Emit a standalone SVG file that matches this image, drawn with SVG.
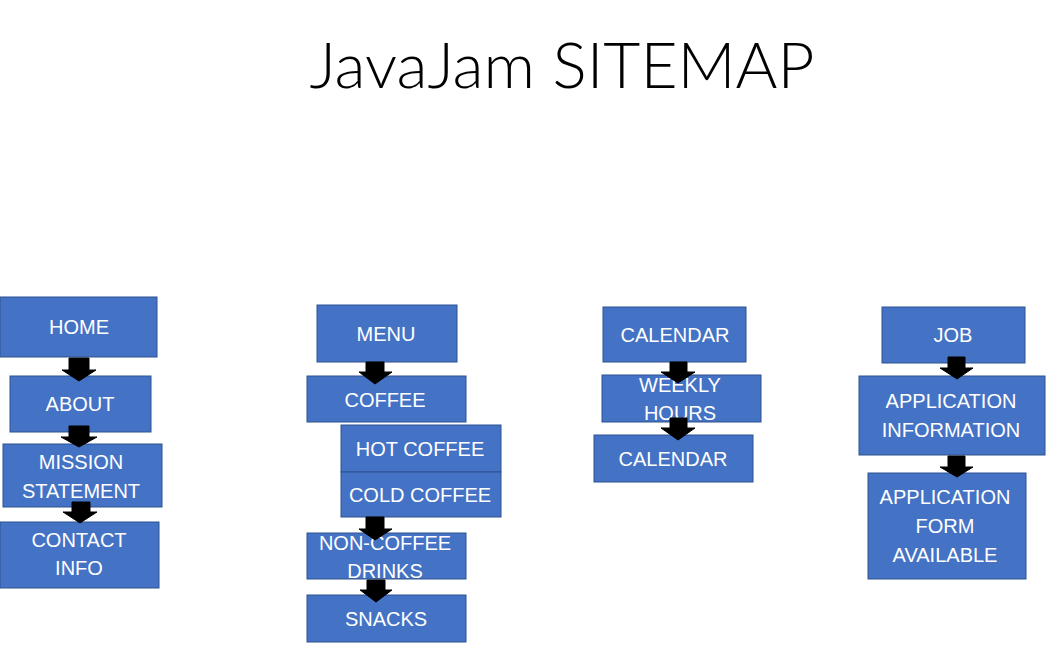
<svg xmlns="http://www.w3.org/2000/svg" width="1046" height="647" viewBox="0 0 1046 647">
<style>
.box{fill:#4472C4;stroke:#2F528F;stroke-width:1}
.t{font-family:"Liberation Sans",Arial,sans-serif;font-size:20px;fill:#fff;text-anchor:middle}
.title{font-family:Lato,"Liberation Sans",Arial,sans-serif;font-weight:300;font-size:64px;fill:#000;text-anchor:middle}
.arr{fill:#000;stroke:#000;stroke-width:1}
</style>
<rect width="1046" height="647" fill="#fff"/>
<text class="title" x="562" y="88" textLength="505" lengthAdjust="spacingAndGlyphs">JavaJam SITEMAP</text>

<g id="home"><rect class="box" x="0" y="297" width="157" height="60"/><text class="t" x="79" y="334">HOME</text></g>
<g id="about"><rect class="box" x="10" y="376" width="141" height="56"/><text class="t" x="80" y="411">ABOUT</text></g>
<g id="mission"><rect class="box" x="3" y="444" width="159" height="63"/><text class="t" x="81" y="469">MISSION</text><text class="t" x="81" y="498">STATEMENT</text></g>
<g id="contact"><rect class="box" x="0" y="522" width="159" height="66"/><text class="t" x="79" y="547">CONTACT</text><text class="t" x="79" y="575">INFO</text></g>

<g id="menu"><rect class="box" x="317" y="305" width="140" height="57"/><text class="t" x="386" y="341">MENU</text></g>
<g id="coffee"><rect class="box" x="307" y="376" width="159" height="46"/><text class="t" x="385" y="407">COFFEE</text></g>
<g id="hotcoffee"><rect class="box" x="341" y="425" width="160" height="47"/><text class="t" x="420" y="456">HOT COFFEE</text></g>
<g id="coldcoffee"><rect class="box" x="341" y="472" width="160" height="45"/><text class="t" x="420" y="502">COLD COFFEE</text></g>
<g id="noncoffee"><rect class="box" x="307" y="533" width="159" height="46"/><text class="t" x="385" y="550">NON-COFFEE</text><text class="t" x="385" y="578">DRINKS</text></g>
<g id="snacks"><rect class="box" x="307" y="595" width="159" height="47"/><text class="t" x="386" y="626">SNACKS</text></g>

<g id="calendar"><rect class="box" x="603" y="307" width="143" height="55"/><text class="t" x="675" y="342">CALENDAR</text></g>
<g id="weekly"><rect class="box" x="602" y="375" width="159" height="47"/><text class="t" x="680" y="392">WEEKLY</text><text class="t" x="680" y="420">HOURS</text></g>
<g id="calendar2"><rect class="box" x="594" y="435" width="159" height="47"/><text class="t" x="673" y="466">CALENDAR</text></g>

<g id="job"><rect class="box" x="882" y="307" width="143" height="56"/><text class="t" x="953" y="342">JOB</text></g>
<g id="appinfo"><rect class="box" x="859" y="376" width="186" height="79"/><text class="t" x="951" y="408">APPLICATION</text><text class="t" x="951" y="437">INFORMATION</text></g>
<g id="appform"><rect class="box" x="868" y="473" width="158" height="106"/><text class="t" x="945" y="504">APPLICATION</text><text class="t" x="945" y="533">FORM</text><text class="t" x="945" y="562">AVAILABLE</text></g>

<g id="connectors">
<path class="arr" d="M69,358 H89 V370 H96 L79,381 L62,370 H69 Z"/>
<path class="arr" d="M69,426 H89 V437 H97 L79,447 L61,437 H69 Z"/>
<path class="arr" d="M72,502 H90 V512 H97 L80,523 L63,512 H72 Z"/>
<path class="arr" d="M366,362 H384 V372 H392 L375,384 L359,372 H366 Z"/>
<path class="arr" d="M366,517 H384 V529 H392 L375,540 L359,529 H366 Z"/>
<path class="arr" d="M367,580 H385 V590 H392 L376,602 L360,590 H367 Z"/>
<path class="arr" d="M670,362 H687 V372 H695 L678,383 L661,372 H670 Z"/>
<path class="arr" d="M670,418 H687 V428 H695 L678,440 L661,428 H670 Z"/>
<path class="arr" d="M948,357 H965 V368 H973 L957,379 L940,368 H948 Z"/>
<path class="arr" d="M948,456 H965 V467 H973 L957,477 L940,467 H948 Z"/>
</g>
</svg>
